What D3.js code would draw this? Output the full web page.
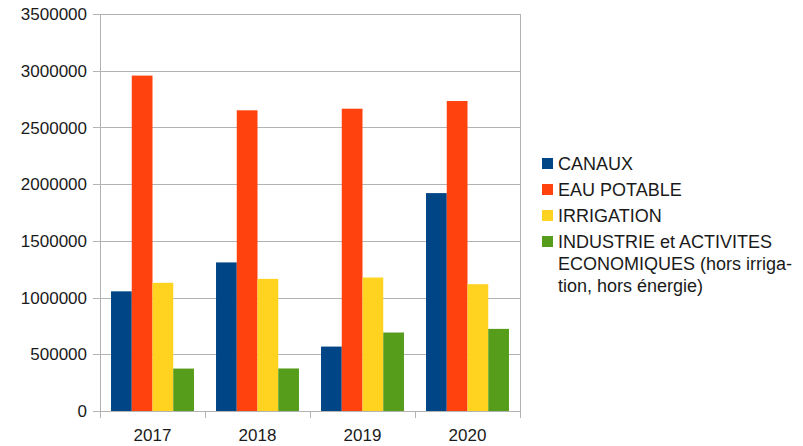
<!DOCTYPE html>
<html>
<head>
<meta charset="utf-8">
<script src="https://cdn.jsdelivr.net/npm/d3@7"></script>
<style>
  body { margin: 0; background: #fff; }
  svg { display: block; font-family: "Liberation Sans", Arial, sans-serif; }
</style>
</head>
<body>
<svg id="chart" width="803" height="446"></svg>
<script>
// data
var years = ["2017", "2018", "2019", "2020"];
var seriesNames = ["CANAUX", "EAU POTABLE", "IRRIGATION", "INDUSTRIE et ACTIVITES ECONOMIQUES (hors irrigation, hors énergie)"];
var canaux = [1055000, 1310000, 568000, 1921000];
var eauPotable = [2957000, 2651000, 2665000, 2733000];
var irrigation = [1130000, 1165000, 1177000, 1118000];
var industrie = [374000, 375000, 692000, 724000];
var yTicks = [0, 500000, 1000000, 1500000, 2000000, 2500000, 3000000, 3500000];
var legendLines = [["CANAUX"], ["EAU POTABLE"], ["IRRIGATION"], ["INDUSTRIE et ACTIVITES", "ECONOMIQUES (hors irriga-", "tion, hors énergie)"]];

var colors = ["#004586", "#ff420e", "#ffd320", "#579d1c"];
var values = [canaux, eauPotable, irrigation, industrie];

var svg = d3.select("#chart");
var plotL = 100, plotR = 520, plotT = 14, plotB = 411;

var y = d3.scaleLinear().domain([0, 3500000]).range([plotB, plotT]);
var x0 = d3.scaleBand().domain(years).range([plotL, plotR]).paddingInner(0.21).paddingOuter(0.105);
var x1 = d3.scaleBand().domain(d3.range(seriesNames.length)).range([0, x0.bandwidth()]);

// grid
svg.append("g").selectAll("line").data(yTicks).enter().append("line")
  .attr("x1", plotL - 7).attr("x2", plotR)
  .attr("y1", function(d){ return Math.round(y(d)) + 0.5; })
  .attr("y2", function(d){ return Math.round(y(d)) + 0.5; })
  .attr("stroke", "#b3b3b3").attr("stroke-width", 1);

// plot frame sides
svg.append("line").attr("x1", plotL + 0.5).attr("x2", plotL + 0.5).attr("y1", plotT).attr("y2", plotB + 7)
  .attr("stroke", "#b3b3b3");
svg.append("line").attr("x1", plotR + 0.5).attr("x2", plotR + 0.5).attr("y1", plotT).attr("y2", plotB + 7)
  .attr("stroke", "#b3b3b3");

// x ticks between categories
var bounds = d3.range(years.length + 1).map(function(i){ return plotL + i * x0.step(); });
svg.append("g").selectAll("line").data(bounds).enter().append("line")
  .attr("x1", function(d){ return Math.round(d) + 0.5; })
  .attr("x2", function(d){ return Math.round(d) + 0.5; })
  .attr("y1", plotB).attr("y2", plotB + 7)
  .attr("stroke", "#b3b3b3");

// bars
var groups = svg.append("g").selectAll("g").data(years).enter().append("g")
  .attr("transform", function(d){ return "translate(" + x0(d) + ",0)"; });
groups.selectAll("rect").data(function(d, i){ return values.map(function(s, k){ return { k: k, v: s[i] }; }); })
  .enter().append("rect")
  .attr("x", function(d){ return x1(d.k); })
  .attr("width", x1.bandwidth())
  .attr("y", function(d){ return y(d.v); })
  .attr("height", function(d){ return plotB - y(d.v); })
  .attr("fill", function(d){ return colors[d.k]; });

// y labels
svg.append("g").selectAll("text").data(yTicks).enter().append("text")
  .attr("x", 87).attr("y", function(d){ return y(d); }).attr("dy", "0.36em")
  .attr("text-anchor", "end").attr("font-size", 17).attr("fill", "#1a1a1a")
  .text(function(d){ return d; });

// x labels
svg.append("g").selectAll("text").data(years).enter().append("text")
  .attr("x", function(d){ return x0(d) + x0.bandwidth() / 2; }).attr("y", 441)
  .attr("text-anchor", "middle").attr("font-size", 17).attr("fill", "#1a1a1a")
  .text(function(d){ return d; });

// legend
var legY = [170, 196, 222, 248];
var leg = svg.append("g").selectAll("g").data(legendLines).enter().append("g");
leg.append("rect").attr("x", 542).attr("y", function(d, i){ return legY[i] - 12; })
  .attr("width", 11).attr("height", 11).attr("fill", function(d, i){ return colors[i]; });
leg.each(function(lines, i){
  var t = d3.select(this).append("text").attr("font-size", 18).attr("fill", "#1a1a1a");
  lines.forEach(function(l, j){
    t.append("tspan").attr("x", 558).attr("y", legY[i] + j * 22).text(l);
  });
});
</script>
</body>
</html>
